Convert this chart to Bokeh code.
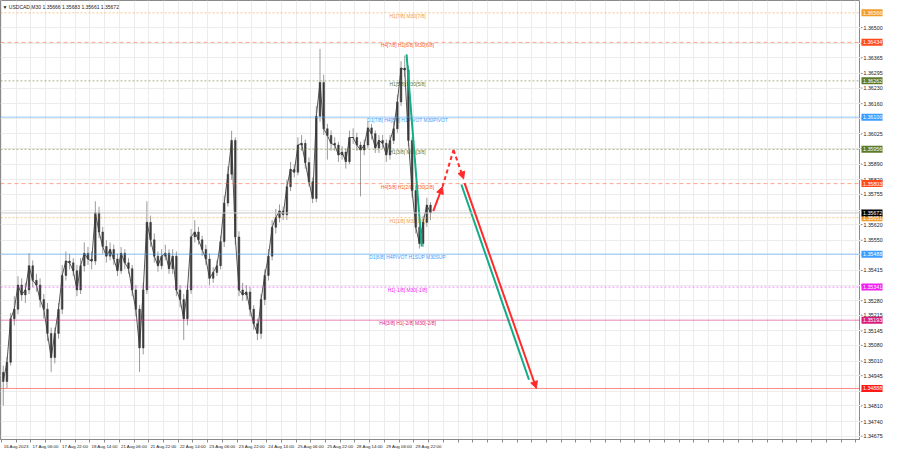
from bokeh.plotting import figure
from bokeh.layouts import row
from bokeh.models import (Range1d, LinearAxis, FixedTicker, Label, Arrow, NormalHead,
                          Span, Grid, ColumnDataSource)
from bokeh.embed import file_html
from bokeh.resources import INLINE
from bokeh.core.properties import value

# ---------------- data (USDCAD M30, grouped 4 bars per candle) ----------------
first_open = 1.34960
close = [1.34919, 1.35005, 1.35199, 1.35242, 1.35350, 1.35306, 1.35328, 1.35436, 1.35371, 1.35350,
         1.35285, 1.35242, 1.35134, 1.35026, 1.35134, 1.35242, 1.35393, 1.35457, 1.35449, 1.35414,
         1.35328, 1.35436, 1.35492, 1.35466, 1.35457, 1.35673, 1.35587, 1.35522, 1.35479, 1.35509,
         1.35466, 1.35414, 1.35492, 1.35449, 1.35423, 1.35328, 1.35242, 1.35069, 1.35328, 1.35630,
         1.35552, 1.35479, 1.35436, 1.35479, 1.35492, 1.35423, 1.35479, 1.35328, 1.35285, 1.35199,
         1.35328, 1.35565, 1.35587, 1.35552, 1.35509, 1.35466, 1.35380, 1.35406, 1.35436, 1.35544,
         1.35716, 1.35845, 1.35996, 1.35565, 1.35328, 1.35306, 1.35319, 1.35242, 1.35177, 1.35134,
         1.35285, 1.35393, 1.35479, 1.35608, 1.35651, 1.35681, 1.35664, 1.35789, 1.35867, 1.35854,
         1.35975, 1.35983, 1.35897, 1.35811, 1.35737, 1.36104, 1.36255, 1.36048, 1.36018, 1.35983,
         1.35975, 1.35931, 1.35944, 1.35901, 1.36009, 1.36009, 1.35975, 1.35953, 1.35975, 1.36052,
         1.36026, 1.35962, 1.35996, 1.35983, 1.35931, 1.35996, 1.36048, 1.36168, 1.36319, 1.36311,
         1.35996, 1.35772, 1.35608, 1.35535, 1.35630, 1.35707, 1.35672]
high = [1.34990, 1.35030, 1.35225, 1.35300, 1.35390, 1.35380, 1.35360, 1.35492, 1.35460, 1.35400,
        1.35380, 1.35310, 1.35270, 1.35160, 1.35160, 1.35270, 1.35440, 1.35500, 1.35490, 1.35470,
        1.35440, 1.35470, 1.35540, 1.35520, 1.35500, 1.35724, 1.35700, 1.35610, 1.35550, 1.35540,
        1.35530, 1.35490, 1.35520, 1.35510, 1.35470, 1.35440, 1.35350, 1.35260, 1.35360, 1.35724,
        1.35660, 1.35580, 1.35500, 1.35510, 1.35530, 1.35510, 1.35510, 1.35500, 1.35350, 1.35310,
        1.35350, 1.35600, 1.35640, 1.35610, 1.35570, 1.35530, 1.35490, 1.35430, 1.35460, 1.35570,
        1.35750, 1.35880, 1.36039, 1.36010, 1.35590, 1.35360, 1.35350, 1.35340, 1.35260, 1.35200,
        1.35310, 1.35420, 1.35510, 1.35640, 1.35690, 1.35710, 1.35700, 1.35820, 1.35900, 1.35890,
        1.36010, 1.36020, 1.36000, 1.35920, 1.35830, 1.36150, 1.36405, 1.36290, 1.36070, 1.36040,
        1.36010, 1.35990, 1.35970, 1.35960, 1.36040, 1.36050, 1.36030, 1.35990, 1.36000, 1.36080,
        1.36070, 1.36040, 1.36020, 1.36020, 1.36000, 1.36020, 1.36080, 1.36200, 1.36350, 1.36375,
        1.36330, 1.36010, 1.35790, 1.35620, 1.35660, 1.35740, 1.35720]
low = [1.34811, 1.34890, 1.34990, 1.35170, 1.35220, 1.35280, 1.35270, 1.35310, 1.35340, 1.35320,
       1.35250, 1.35200, 1.35100, 1.34962, 1.35000, 1.35110, 1.35220, 1.35370, 1.35420, 1.35390,
       1.35300, 1.35310, 1.35410, 1.35440, 1.35420, 1.35440, 1.35560, 1.35490, 1.35450, 1.35460,
       1.35440, 1.35390, 1.35400, 1.35420, 1.35400, 1.35300, 1.35210, 1.34962, 1.35040, 1.35310,
       1.35520, 1.35450, 1.35410, 1.35420, 1.35460, 1.35400, 1.35400, 1.35300, 1.35250, 1.35104,
       1.35170, 1.35310, 1.35540, 1.35530, 1.35480, 1.35440, 1.35350, 1.35360, 1.35390, 1.35420,
       1.35520, 1.35700, 1.35820, 1.35530, 1.35300, 1.35280, 1.35280, 1.35210, 1.35150, 1.35104,
       1.35110, 1.35260, 1.35370, 1.35460, 1.35580, 1.35630, 1.35640, 1.35640, 1.35770, 1.35830,
       1.35840, 1.35950, 1.35870, 1.35790, 1.35716, 1.35720, 1.36080, 1.36020, 1.35910, 1.35950,
       1.35950, 1.35900, 1.35910, 1.35870, 1.35890, 1.35980, 1.35950, 1.35746, 1.35930, 1.35960,
       1.36000, 1.35940, 1.35940, 1.35960, 1.35900, 1.35910, 1.35980, 1.36030, 1.36150, 1.36280,
       1.35970, 1.35740, 1.35580, 1.35513, 1.35520, 1.35610, 1.35640]
BARS_PER_CANDLE = 4

# Murrey-style levels
level_values = [1.36566, 1.36434, 1.36262, 1.36100, 1.35956, 1.35803, 1.35651, 1.35488,
                1.35341, 1.35193, 1.34888]
level_labels = ["H1[7/8] M30[7/8]", "H4[7/8] H1[6/8] M30[6/8]", "H1[5/8] M30[5/8]",
                "D1[7/8] H4[8/8] H1PIVOT M30PIVOT", "H1[3/8] M30[3/8]", "H4[5/8] H1[2/8] M30[2/8]",
                "H1[1/8] M30[1/8]", "D1[6/8] H4PIVOT H1SUP M30SUP", "H1[-1/8] M30[-1/8]",
                "H4[3/8] H1[-2/8] M30[-2/8]", ""]
level_colors = ["#f39c2c", "#ff5a2a", "#5d7a2a", "#3d9cff", "#5d7a2a", "#ff5a2a",
                "#f39c2c", "#3d9cff", "#f020f0", "#d81b7a", "#ff2a2a"]
level_dash = ["2 2", "4 3", "2 2", "solid", "2 2", "4 3", "2 2", "solid", "2 2", "solid", "solid"]

current_price = 1.35672
ohlc_text = "\u25BC USDCAD,M30  1.35666 1.35683 1.35661 1.35672"

# price scale ticks
price_ticks = [1.36500, 1.36430, 1.36365, 1.36295, 1.36230, 1.36160, 1.36095, 1.36025, 1.35960,
               1.35890, 1.35820, 1.35755, 1.35685, 1.35620, 1.35550, 1.35485, 1.35415, 1.35350,
               1.35280, 1.35215, 1.35145, 1.35080, 1.35010, 1.34945, 1.34875, 1.34810, 1.34740,
               1.34675]
hidden_ticks = [1.36095, 1.35960, 1.35685, 1.35485, 1.35350, 1.34875]

# time axis (bar index of M30 bars); MT4 writes each label to the right of its tick
date_ticks = [0, 32, 64, 96, 128, 160, 192, 224, 256, 288, 320, 352, 384, 416, 448]
date_labels = ["16 Aug 2023", "17 Aug 06:00", "17 Aug 22:00", "18 Aug 14:00", "21 Aug 06:00",
               "21 Aug 22:00", "22 Aug 14:00", "23 Aug 06:00", "23 Aug 22:00", "24 Aug 14:00",
               "25 Aug 06:00", "25 Aug 22:00", "28 Aug 14:00", "29 Aug 06:00", "29 Aug 22:00"]

# forecast drawing (bar, price)
green1_x = [440, 456.5]
green1_y = [1.36380, 1.35522]
red_up_x = [469, 479]
red_up_y = [1.35680, 1.35789]
red_dash_x = [479, 491, 502]
red_dash_y = [1.35789, 1.35953, 1.35824]
red_down_x = [503, 581]
red_down_y = [1.35805, 1.34888]
green2_x = [499.5, 573]
green2_y = [1.35799, 1.34927]

X_START, X_END = -1, 933
Y_START, Y_END = 1.34660, 1.36621
LABEL_BAR = 441
LABEL_SHIFT = 16          # bars from a date tick to the centre of its label
FONT = "Liberation Sans"
H = 452
BOTTOM = 13

y_range = Range1d(Y_START, Y_END)

# ---------------- main chart ----------------
p = figure(width=860, height=H, x_range=Range1d(X_START, X_END), y_range=y_range,
           output_backend="svg", toolbar_location=None, x_axis_location=None, y_axis_location=None,
           min_border=0, min_border_bottom=BOTTOM, outline_line_color="#8a8a8a",
           background_fill_color="white", border_fill_color="white")
for g in list(p.grid):
    g.visible = False

label_pos = [t + LABEL_SHIFT for t in date_ticks]
all_marks = list(range(0, X_END, 16))
xaxis = LinearAxis(ticker=FixedTicker(ticks=label_pos, minor_ticks=all_marks),
                   major_label_overrides={lp: l for lp, l in zip(label_pos, date_labels)})
xaxis.axis_line_color = "#8a8a8a"
xaxis.major_tick_line_color = None
xaxis.minor_tick_line_color = "#8a8a8a"
xaxis.minor_tick_in = 0
xaxis.minor_tick_out = 3
xaxis.major_tick_out = 3
xaxis.major_label_text_font = FONT
xaxis.major_label_text_font_size = "4.4px"
xaxis.major_label_text_color = "#1a1a1a"
xaxis.major_label_standoff = 1
p.add_layout(xaxis, "below")

p.add_layout(Grid(dimension=0, ticker=FixedTicker(ticks=all_marks),
                  grid_line_color="#ececec", grid_line_width=1))
p.add_layout(Grid(dimension=1, ticker=FixedTicker(ticks=price_ticks),
                  grid_line_color="#ececec", grid_line_width=1))

for lv, col, dash in zip(level_values, level_colors, level_dash):
    p.add_layout(Span(location=lv, dimension="width", line_color=col, line_dash=dash,
                      line_width=1, line_alpha=0.55))
p.add_layout(Span(location=current_price, dimension="width", line_color="#c8c8c8", line_width=1))

p.text(x=[LABEL_BAR] * len(level_values), y=level_values, text=level_labels,
       text_color=level_colors, text_font=value(FONT), text_font_size="4.9px",
       text_align="center", text_baseline="top", y_offset=1)

# candles
opens = [first_open] + close[:-1]
bars = [i * BARS_PER_CANDLE + BARS_PER_CANDLE / 2 for i in range(len(close))]
src = ColumnDataSource(dict(x=bars, o=opens, c=close, h=high, l=low,
                            top=[max(a, b) for a, b in zip(opens, close)],
                            bot=[min(a, b) for a, b in zip(opens, close)]))
p.segment(x0="x", y0="l", x1="x", y1="h", source=src, line_color="#9a9a9a", line_width=1)
p.line(x="x", y="c", source=src, line_color="#555555", line_width=1)
p.vbar(x="x", top="top", bottom="bot", width=1.8, source=src, fill_color="#3a3a3a",
       line_color="#3a3a3a", line_width=0.5)

# forecast arrows
GREEN = "#12ad86"
RED = "#ff2a2a"
p.line(green1_x, green1_y, line_color=GREEN, line_width=2)
p.line(green2_x, green2_y, line_color=GREEN, line_width=2)
p.add_layout(Arrow(x_start=red_up_x[0], y_start=red_up_y[0], x_end=red_up_x[1], y_end=red_up_y[1],
                   line_color=RED, line_width=2,
                   end=NormalHead(size=7, fill_color=RED, line_color=RED)))
p.line(red_dash_x[:2], red_dash_y[:2], line_color=RED, line_width=2, line_dash="4 3")
p.add_layout(Arrow(x_start=red_dash_x[1], y_start=red_dash_y[1], x_end=red_dash_x[2], y_end=red_dash_y[2],
                   line_color=RED, line_width=2, line_dash="4 3",
                   end=NormalHead(size=7, fill_color=RED, line_color=RED)))
p.add_layout(Arrow(x_start=red_down_x[0], y_start=red_down_y[0], x_end=red_down_x[1], y_end=red_down_y[1],
                   line_color=RED, line_width=2,
                   end=NormalHead(size=7, fill_color=RED, line_color=RED)))

p.add_layout(Label(x=X_START, y=Y_END, x_offset=2, y_offset=-3, text=ohlc_text,
                   text_color="#1a1a1a", text_font=FONT, text_font_size="5px", text_baseline="top"))

# ---------------- price scale (right) ----------------
s = figure(width=24, height=H, x_range=Range1d(0, 24), y_range=y_range,
           output_backend="svg", toolbar_location=None, x_axis_location=None, y_axis_location=None,
           min_border=0, min_border_bottom=BOTTOM, outline_line_color=None,
           background_fill_color="white", border_fill_color="white")
for g in list(s.grid):
    g.visible = False

vis_ticks = [t for t in price_ticks if t not in hidden_ticks]
s.segment(x0=[0] * len(price_ticks), x1=[2] * len(price_ticks), y0=price_ticks, y1=price_ticks,
          line_color="#8a8a8a", line_width=1)
s.text(x=[3] * len(vis_ticks), y=vis_ticks, text=[f"{t:.5f}" for t in vis_ticks],
       text_color="#1a1a1a", text_font=value(FONT), text_font_size="5.3px",
       text_align="left", text_baseline="middle")

box_values = level_values + [current_price]
box_colors = ["#f39c2c", "#ff4a1a", "#5d7a2a", "#3d9cff", "#5d7a2a", "#ff4a1a",
              "#f39c2c", "#3d9cff", "#f020f0", "#d81b7a", "#ff1a1a", "#000000"]
s.rect(x=[11.5] * len(box_values), y=box_values, width=21, height=7, width_units="screen",
       height_units="screen", fill_color=box_colors, line_color=None)
s.text(x=[2.5] * len(box_values), y=box_values, text=[f"{b:.5f}" for b in box_values],
       text_color="white", text_font=value(FONT), text_font_size="5.3px",
       text_align="left", text_baseline="middle")

layout = row(p, s, spacing=0)
open("out.html", "w").write(file_html(layout, INLINE))
